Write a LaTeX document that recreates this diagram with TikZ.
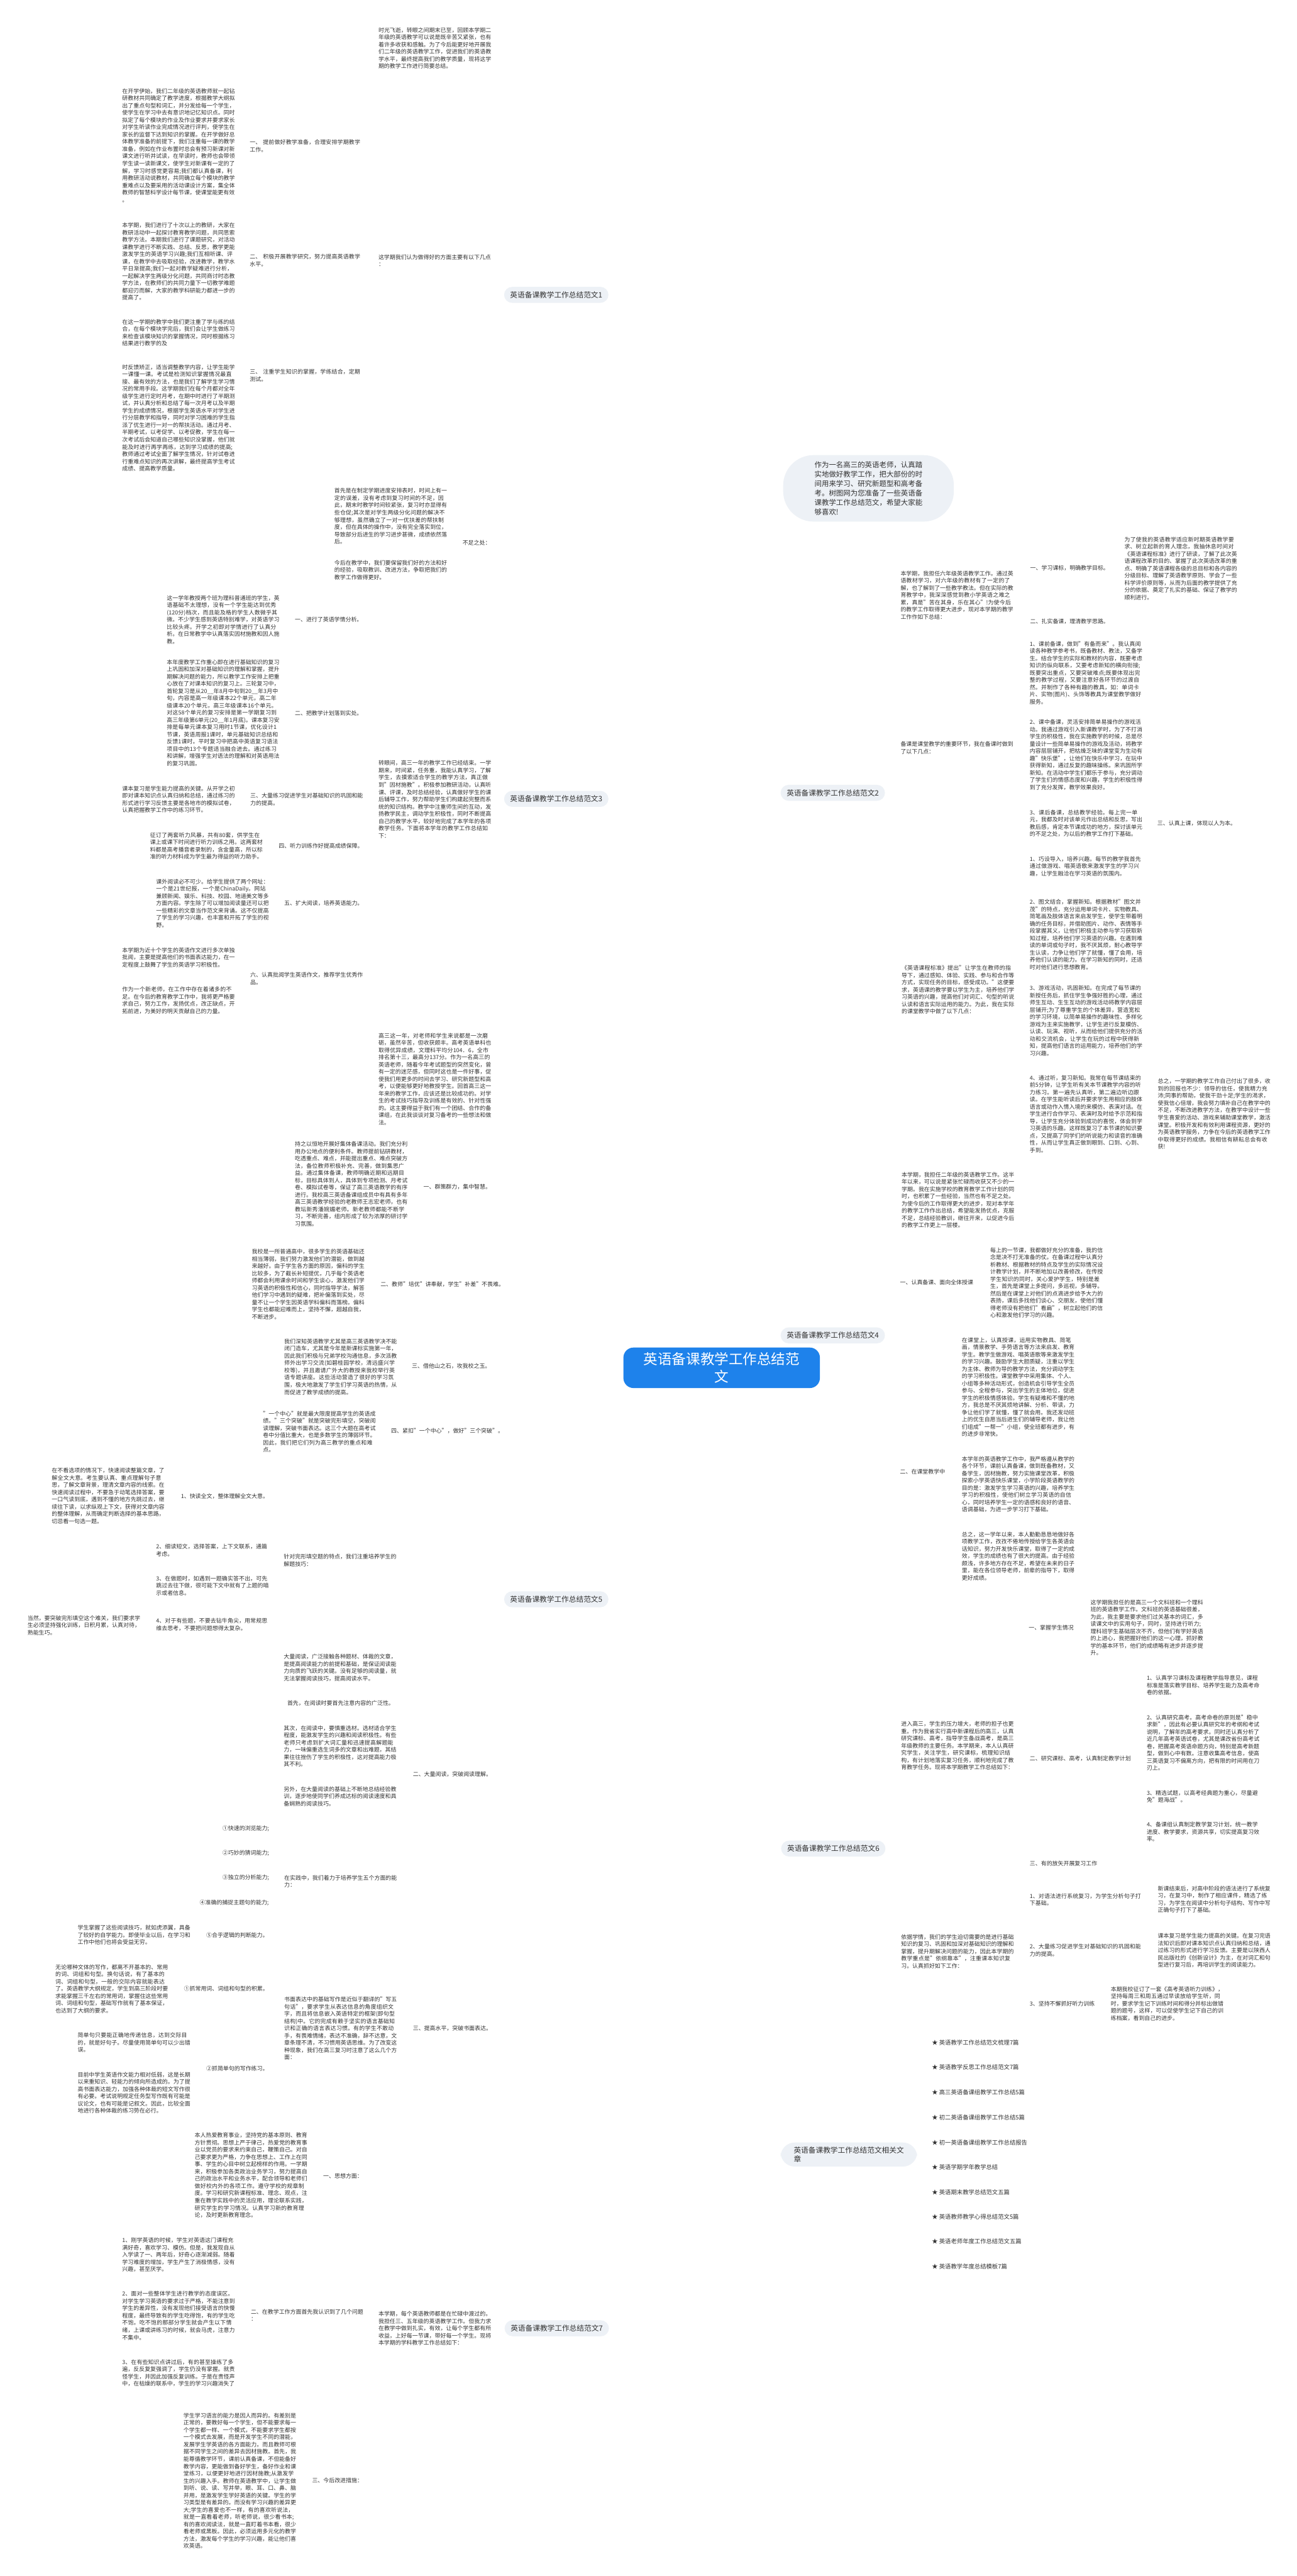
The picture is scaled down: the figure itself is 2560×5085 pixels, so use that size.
\documentclass[tikz,border=0pt]{standalone}
\usepackage{fontspec}
\setmainfont{Noto Sans CJK SC}
\XeTeXlinebreaklocale "zh"
\XeTeXlinebreakskip=0pt plus 0.5pt
\usetikzlibrary{calc}
\pgfdeclarelayer{bg}
\pgfsetlayers{bg,main}
\definecolor{lineblue}{RGB}{27,108,190}
\definecolor{rootblue}{RGB}{30,130,235}
\definecolor{brfill}{RGB}{237,241,246}
\definecolor{txt}{RGB}{50,50,50}
\newcommand\bodyf{\fontsize{5.55pt}{7.15pt}\selectfont}
\newcommand\brf{\fontsize{7.25pt}{9pt}\selectfont}
\newcommand\rootf{\fontsize{14pt}{17pt}\selectfont}
\newcommand\myR[2]{\draw[conn] (#1.east) -- ++(15,0) |- (#2.west);}
\newcommand\myL[2]{\draw[conn] (#1.west) -- ++(-15,0) |- (#2.east);}
\newcommand\mainR[1]{\draw[mainc] (cen.center) .. controls (rx) and (rx |- #1.west) .. (#1.west);}
\newcommand\mainL[1]{\draw[mainc] (cen.center) .. controls (lx) and (lx |- #1.east) .. (#1.east);}
\begin{document}
\begin{tikzpicture}[x=0.5pt,y=-0.5pt,
  blk/.style={anchor=west,inner sep=0pt,text width=111.5pt,align=left,font=\bodyf,text=txt},
  lab/.style={anchor=west,inner sep=0pt,font=\bodyf,text=txt},
  br/.style={anchor=west,fill=brfill,rounded corners=8pt,font=\brf,text=txt,inner xsep=6pt,inner ysep=4.5pt},
  root/.style={fill=rootblue,text=white,rounded corners=10pt,font=\rootf,align=center,inner xsep=20pt,inner ysep=5pt},
  conn/.style={draw=lineblue,line width=1.1pt,rounded corners=5pt},
  mainc/.style={draw=lineblue,line width=1.5pt}]
\useasboundingbox (0,0) rectangle (2560,5085);
\fill[white] (0,0) rectangle (2560,5085);

% ---------- central ----------
\node[root] (cen) at (1425,2700) {英语备课教学工作总结范\\文};
\coordinate (rx) at (1490,2700);
\coordinate (lx) at (1250,2700);

% ---------- branch 1 ----------
\node[br] (b1) at (995,582) {英语备课教学工作总结范文1};
\node[blk] (b1t1) at (747,95) {时光飞逝，转眼之间期末已至，回顾本学期二年级的英语教学可以说是既辛苦又紧张，也有着许多收获和感触。为了今后能更好地开展我们二年级的英语教学工作，促进我们的英语教学水平，最终提高我们的教学质量，现将这学期的教学工作进行简要总结。};
\node[blk] (b1t2) at (747,514) {这学期我们认为做得好的方面主要有以下几点\\：};
\node[blk] (b1t2a) at (493,288) {一、 提前做好教学准备，合理安排学期教学工作。};
\node[blk] (b1t2a1) at (241,287) {在开学伊始，我们二年级的英语教师就一起钻研教材共同确定了教学进度，根据教学大纲拟出了重点句型和词汇，并分发给每一个学生，使学生在学习中去有意识地记忆知识点。同时拟定了每个模块的作业及作业要求并要求家长对学生听读作业完成情况进行评判，使学生在家长的监督下达到知识的掌握。在开学做好总体教学准备的前提下，我们注重每一课的教学准备，例如在作业布置时总会有预习新课对新课文进行听并试读，在早读时，教师也会带领学生读一读新课文，使学生对新课有一定的了解，学习时感觉更容易;我们都认真备课，利用教研活动说教材，共同确立每个模块的教学重难点以及要采用的活动课设计方案，集全体教师的智慧科学设计每节课，使课堂能更有效\\。};
\node[blk] (b1t2b) at (493,514) {二、 积极开展教学研究，努力提高英语教学水平。};
\node[blk] (b1t2b1) at (241,516) {本学期，我们进行了十次以上的教研，大家在教研活动中一起探讨教育教学问题，共同思索教学方法。本期我们进行了课题研究，对活动课教学进行不断实践、总结、反思，教学更能激发学生的英语学习兴趣;我们互相听课、评课，在教学中去吸取经验，改进教学，教学水平日渐提高;我们一起对教学疑难进行分析，一起解决学生两级分化问题，共同商讨时态教学方法，在教师们的共同力量下一切教学难题都迎刃而解，大家的教学科研能力都进一步的提高了。};
\node[blk] (b1t2c) at (493,741) {三、 注重学生知识的掌握，学练结合，定期测试。};
\node[blk] (b1t2c1) at (241,657) {在这一学期的教学中我们更注重了学与练的结合，在每个模块学完后，我们会让学生做练习来检查该模块知识的掌握情况，同时根据练习结果进行教学的及};
\node[blk] (b1t2c2) at (241,825) {时反馈矫正，适当调整教学内容，让学生能学一课懂一课。考试是检测知识掌握情况最直接、最有效的方法，也是我们了解学生学习情况的常用手段。这学期我们在每个月都对全年级学生进行定时月考，在期中时进行了半期测试，并认真分析和总结了每一次月考以及半期学生的成绩情况，根据学生英语水平对学生进行分层教学和指导，同时对学习困难的学生指派了优生进行一对一的帮扶活动。通过月考、半期考试，以考促学、以考促教，学生在每一次考试后会知道自己哪些知识没掌握，他们就能及时进行再学再练，达到学习成绩的提高;教师通过考试全面了解学生情况，针对试卷进行重难点知识的再次讲解，最终提高学生考试成绩、提高教学质量。};
\node[lab] (b1t3) at (913,1071) {不足之处：};
\node[blk] (b1t3a) at (660,1019) {首先是在制定学期进度安排表时，时间上有一定的误差，没有考虑到复习时间的不足，因此，期末时教学时间较紧张，复习时亦显得有些仓促;其次是对学生两级分化问题的解决不够理想，虽然确立了一对一优扶差的帮扶制度，但在具体的操作中，没有完全落实到位，导致部分后进生的学习进步甚微，成绩依然落后。};
\node[blk] (b1t3b) at (660,1125) {今后在教学中，我们要保留我们好的方法和好的经验，吸取教训、改进方法，争取把我们的教学工作做得更好。};

% ---------- branch 3 ----------
\node[br] (b3) at (995,1577) {英语备课教学工作总结范文3};
\node[blk] (b3t) at (747,1578) {转眼间，高三一年的教学工作已经结束。一学期来，时间紧，任务重，我能认真学习，了解学生，去摸索适合学生的教学方法，真正做到"因材施教"。积极参加教研活动，认真听课、评课，及时总结经验，认真做好学生的课后辅导工作，努力帮助学生们构建起完整而系统的知识结构。教学中注重师生间的互动，发扬教学民主，调动学生积极性，同时不断提高自己的教学水平，较好地完成了本学年的各项教学任务。下面将本学年的教学工作总结如下：};
\node[lab] (b3a) at (582,1223) {一、进行了英语学情分析。};
\node[blk] (b3a1) at (329,1223) {这一学年教授两个班为理科普通班的学生，英语基础不太理想，没有一个学生能达到优秀(120分)档次，而且能及格的学生人数微乎其微。不少学生感到英语特别难学，对英语学习比较头疼。开学之初即对学情进行了认真分析。在日常教学中认真落实因材施教和因人施教。};
\node[lab] (b3b) at (582,1408) {二、把教学计划落到实处。};
\node[blk] (b3b1) at (329,1407) {本年度教学工作重心即在进行基础知识的复习上巩固和加深对基础知识的理解和掌握，提升期解决问题的能力，所以教学工作安排上把重心放在了对课本知识的复习上。三轮复习中，首轮复习是从20\_\_年8月中旬到20\_\_年3月中旬，内容是高一年级课本22个单元，高二年级课本20个单元，高三年级课本16个单元。对这58个单元的复习安排是第一学期复习到高三年级第6单元(20\_\_年1月底)。课本复习安排是每单元课本复习用时1节课，优化设计1节课，英语周报1课时，单元基础知识总结和反馈1课时。平时复习中把高中英语复习语法项目中的13个专题适当融合进去。通过练习和讲解，增强学生对语法的理解和对英语用法的复习巩固。};
\node[blk] (b3c) at (494,1578) {三、大量练习促进学生对基础知识的巩固和能力的提高。};
\node[blk] (b3c1) at (241,1578) {课本复习是学生能力提高的关键。从开学之初即对课本知识点认真归纳和总结，通过练习的形式进行学习反馈主要是各地市的模拟试卷，认真把握教学工作中的练习环节。};
\node[lab] (b3d) at (550,1670) {四、听力训练作好提高成绩保障。};
\node[blk] (b3d1) at (296,1670) {征订了两套听力风暴，共有80套，供学生在课上或课下时间进行听力训练之用。这两套材料都是高考播音者录制的，含金量高，所以标准的听力材料成为学生最为得益的听力助手。};
\node[lab] (b3e) at (561,1783) {五、扩大阅读，培养英语能力。};
\node[blk] (b3e1) at (308,1783) {课外阅读必不可少。给学生提供了两个网址：一个是21世纪报，一个是ChinaDaily。网站兼顾新闻、娱乐、科技、校园、地道美文等多方面内容。学生除了可以增加阅读量还可以把一些精彩的文章当作范文来背诵。这不仅提高了学生的学习兴趣，也丰富和开拓了学生的视野。};
\node[blk] (b3f) at (494,1932) {六、认真批阅学生英语作文，推荐学生优秀作品。};
\node[blk] (b3f1) at (241,1890) {本学期为近十个学生的英语作文进行多次单独批阅，主要是提高他们的书面表达能力，在一定程度上鼓舞了学生的英语学习积极性。};
\node[blk] (b3f2) at (241,1975) {作为一个新老师，在工作中存在着诸多的不足。在今后的教育教学工作中，我将更严格要求自己，努力工作，发扬优点，改正缺点，开拓前进，为美好的明天贡献自己的力量。};

% ---------- branch 5 ----------
\node[br] (b5) at (995,3157) {英语备课教学工作总结范文5};
\node[blk] (b5t) at (747,2130) {高三这一年，对老师和学生来说都是一次磨砺，虽然辛苦，但收获颇丰。高考英语单科也取得优异成绩，文理科平均分104．6，全市排名第十三，最高分137分。作为一名高三的英语老师，随着今年考试题型的突然变化，曾有一定的迷茫感，但同时这也是一件好事，促使我们用更多的时间去学习、研究新题型和高考，以便能够更好地教授学生。回首高三这一年来的教学工作，应该还是比较成功的。对学生的考试技巧指导及训练是有效的、针对性强的。这主要得益于我们有一个团结、合作的备课组，在此我谈谈对复习备考的一些想法和做法。};
\node[lab] (b5a) at (836,2343) {一、群策群力，集中智慧。};
\node[blk] (b5a1) at (582,2337) {持之以恒地开展好集体备课活动。我们充分利用办公地点的便利条件。教师提前钻研教材，吃透重点、难点，并能提出重点、难点突破方法，备位教师积极补充、完善，做到集思广益。通过集体备课，教师明确近期和远期目标，目标具体到人，具体到专项检测、月考试卷、模拟试卷等，保证了高三英语教学的有序进行。我校高三英语备课组成员中有具有多年高三英语教学经验的老教师王志宏老师，也有教坛新秀潘婉媚老师。新老教师都能不断学习，不断完善，组内形成了较为浓厚的研讨学习氛围。};
\node[lab] (b5b) at (751,2535) {二、教师"培优"讲奉献，学生"补差"不畏难。};
\node[blk] (b5b1) at (497,2535) {我校是一所普通高中，很多学生的英语基础还相当薄弱，我们努力激发他们的潜能，做到越来越好。由于学生各方面的原因，偏科的学生比较多，为了截长补短提优，几乎每个英语老师都会利用课余时间和学生谈心，激发他们学习英语的积极性和信心，同时指导学法，解答他们学习中遇到的疑难，把补偏落到实处，尽量不让一个学生因英语学科偏科而落榜。偏科学生也都能迎难而上，坚持不懈，超越自我，不断进步。};
\node[lab] (b5c) at (813,2697) {三、借他山之石，攻我校之玉。};
\node[blk] (b5c1) at (561,2698) {我们深知英语教学尤其是高三英语教学决不能闭门造车，尤其是今年是新课标实施第一年，因此我们积极与兄弟学校沟通信息，多次派教师外出学习交流(如碧桂园学校，清远盛兴学校等)，并且邀请广外大的教授来我校举行英语专题讲座。这些活动营造了很好的学习氛围，极大地激发了学生们学习英语的热情，从而促进了教学成绩的提高。};
\node[lab] (b5d) at (772,2825) {四、紧扣"一个中心"，做好"三个突破"。};
\node[blk] (b5d1) at (519,2826) {"一个中心"就是最大限度提高学生的英语成绩。"三个突破"就是突破完形填空，突破阅读理解，突破书面表达。这三个大题在高考试卷中分值比重大，也是多数学生的薄弱环节。因此，我们把它们列为高三教学的重点和难点。};
\node[blk] (b5e) at (560,3080) {针对完形填空题的特点，我们注重培养学生的解题技巧：};
\node[lab] (b5e1) at (357,2953) {1、快读全文，整体理解全文大意。};
\node[blk] (b5e1a) at (102,2953) {在不看选项的情况下，快速阅读整篇文章，了解全文大意。考生要认真、重点理解句子意思，了解文章背景，理清文章内容的线索。在快速阅读过程中，不要急于动笔选择答案，要一口气读到底，遇到不懂的地方先跳过去，继续往下读，以求纵观上下文，获得对文章内容的整体理解，从而确定判断选择的基本思路，切忌看一句选一题。};
\node[blk] (b5e2) at (308,3060) {2、细读短文，选择答案，上下文联系，通篇考虑。};
\node[blk] (b5e3) at (308,3130) {3、在做题时，如遇到一题确实答不出，可先跳过去往下做，很可能下文中就有了上题的暗示或者信息。};
\node[blk] (b5e4) at (308,3207) {4、对于有些题，不要去钻牛角尖，用常规思维去思考，不要把问题想得太复杂。};
\node[blk] (b5e4a) at (54,3208) {当然，要突破完形填空这个难关，我们要求学生必须坚持强化训练，日积月累，认真对待，熟能生巧。};
\node[lab] (b5f) at (815,3502) {二、大量阅读，突破阅读理解。};
\node[blk] (b5f1) at (560,3292) {大量阅读，广泛接触各种题材、体裁的文章，是提高阅读能力的前提和基础，是保证阅读能力向质的飞跃的关键。没有足够的阅读量，就无法掌握阅读技巧，提高阅读水平。};
\node[lab] (b5f2) at (567,3362) {首先，在阅读时要首先注意内容的广泛性。};
\node[blk] (b5f3) at (560,3447) {其次，在阅读中，要慎重选材。选材适合学生程度，能激发学生的兴趣和阅读积极性。有些老师只考虑到扩大词汇量和迅速提高解题能力，一味偏重选生词多的文章和出难题，其结果往往挫伤了学生的积极性，这对提高能力极其不利。};
\node[blk] (b5f4) at (560,3546) {另外，在大量阅读的基础上不断地总结经验教训，逐步地使同学们养成达标的阅读速度和具备娴熟的阅读技巧。};
\node[blk] (b5f5) at (561,3714) {在实践中，我们着力于培养学生五个方面的能力：};
\node[lab] (b5f5a) at (439,3610) {①快速的浏览能力;};
\node[lab] (b5f5b) at (439,3658) {②巧妙的猜词能力;};
\node[lab] (b5f5c) at (439,3707) {③独立的分析能力;};
\node[lab] (b5f5d) at (394,3756) {④准确的捕捉主题句的能力;};
\node[lab] (b5f5e) at (407,3820) {⑤合乎逻辑的判断能力。};
\node[blk] (b5f5e1) at (153,3820) {学生掌握了这些阅读技巧，就如虎添翼，具备了较好的自学能力。即使毕业以后，在学习和工作中他们也将会受益无穷。};
\node[lab] (b5g) at (815,4004) {三、提高水平，突破书面表达。};
\node[blk] (b5g1) at (561,4004) {书面表达中的基础写作是近似于翻译的"写五句话"，要求学生从表达信息的角度组织文字，而且将信息嵌入英语特定的框架(即句型结构)中。它的完成有赖于坚实的语言基础知识和正确的语言表达习惯。有的学生不敢动手，有畏难情绪，表达不准确，辞不达意，文章条理不清，不习惯用英语思维。为了改变这种现象，我们在高三复习时注意了这么几个方面：};
\node[lab] (b5g1a) at (363,3926) {①抓常用词、词组和句型的积累。};
\node[blk] (b5g1a1) at (109,3926) {无论哪种文体的写作，都离不开基本的、常用的词、词组和句型。换句话说，有了基本的词、词组和句型，一般的交际内容就能表达了。英语教学大纲规定，学生到高三阶段时要求能掌握三千左右的常用词，掌握住这些常用词、词组和句型，基础写作就有了基本保证，也达到了大纲的要求。};
\node[lab] (b5g1b) at (407,4083) {②抓简单句的写作练习。};
\node[blk] (b5g1b1) at (153,4032) {简单句只要能正确地传递信息，达到交际目的，就是好句子。尽量使用简单句可以少出错误。};
\node[blk] (b5g1b2) at (153,4131) {目前中学生英语作文能力相对低弱，这是长期以来重知识、轻能力的倾向所造成的。为了提高书面表达能力，加强各种体裁的短文写作很有必要。考试说明规定任务型写作既有可能是议论文，也有可能是记叙文。因此，比较全面地进行各种体裁的练习势在必行。};

% ---------- branch 7 ----------
\node[br] (b7) at (996,4596) {英语备课教学工作总结范文7};
\node[blk] (b7t) at (747,4596) {本学期，每个英语教师都是在忙碌中渡过的。我担任三、五年级的英语教学工作。但我力求在教学中做到扎实，有效，让每个学生都有所收益，上好每一节课，带好每一个学生。现将本学期的学科教学工作总结如下：};
\node[lab] (b7a) at (638,4295) {一、思想方面：};
\node[blk] (b7a1) at (384,4294) {本人热爱教育事业，坚持党的基本原则、教育方针贯彻。思想上严于律己，热爱党的教育事业以党员的要求来约束自己，鞭策自己。对自己要求更为严格，力争在思想上、工作上在同事、学生的心目中树立起榜样的作用。一学期来，积极参加各类政治业务学习，努力提高自己的政治水平和业务水平，配合领导和老师们做好校内外的各项工作。遵守学校的规章制度。学习和研究新课程标准、理念、观点，注重在教学实践中的灵活应用，理论联系实践，研究学生的学习情况。认真学习新的教育理论，及时更新教育理念。};
\node[blk] (b7b) at (495,4570) {二、在教学工作方面首先我认识到了几个问题\\：};
\node[blk] (b7b1) at (241,4451) {1、刚学英语的时候，学生对英语这门课程充满好奇，喜欢学习、模仿。但是，我发现自从入学读了一、两年后，好奇心逐渐减弱。随着学习难度的增加，学生产生了消极情感，没有兴趣，甚至厌学。};
\node[blk] (b7b2) at (241,4571) {2、面对一些整体学生进行教学的态度误区。对学生学习英语的要求过于严格，不能注意到学生的差异性，没有发现他们接受语言的快慢程度，最终导致有的学生吃得饱，有的学生吃不饱。吃不饱的那部分学生就会产生以下情绪，上课或讲练习的时候，就会马虎，注意力不集中。};
\node[blk] (b7b3) at (241,4684) {3、在有些知识点讲过后，有的甚至操练了多遍，反反复复强调了，学生仍没有掌握。就责怪学生，并因此加强反复训练。于是在责怪声中，在枯燥的联系中，学生的学习兴趣消失了};
\node[lab] (b7c) at (616,4896) {三、今后改进措施：};
\node[blk] (b7c1) at (362,4897) {学生学习语言的能力是因人而异的。有差别是正常的，要教好每一个学生，但不能要求每一个学生都一样、一个模式，不能要求学生都按一个模式去发展，而是开发学生不同的潜能，发展学生学英语的各方面能力。而且教师可根据不同学生之间的差异去因材施教。首先，我能尊循教学环节，课前认真备课，不但能备好教学内容，更能做到备好学生，备好作业和课堂练习，以便更好地进行因材施教;从激发学生的兴趣入手。教师在英语教学中，让学生做到听、说、读、写并举，眼、耳、口、鼻、脑并用，是激发学生学好英语的关键。学生的学习类型是有差异的。而没有学习兴趣的差异更大;学生的喜爱也不一样，有的喜欢听说法，就是一直看着老师，听老师说，很少看书本;有的喜欢阅读法，就是一直盯着书本看，很少看老师或黑板。因此，必须运用多元化的教学方法，激发每个学生的学习兴趣，能让他们喜欢英语。};

% ---------- intro ----------
\node[fill=brfill,rounded corners=30pt,align=left,font=\fontsize{7.1pt}{9.4pt}\selectfont,text=txt,inner xsep=31pt,inner ysep=6pt] (intro) at (1715,964) {作为一名高三的英语老师，认真踏\\实地做好教学工作，把大部份的时\\间用来学习、研究新题型和高考备\\考。树图网为您准备了一些英语备\\课教学工作总结范文，希望大家能\\够喜欢!};

% ---------- branch 2 ----------
\node[br] (b2) at (1541,1565) {英语备课教学工作总结范文2};
\node[blk] (b2a) at (1778,1175) {本学期，我担任六年级英语教学工作。通过英语教材学习，对六年级的教材有了一定的了解，也了解到了一些教学教法。但在实际的教育教学中，我深深感觉到教小学英语之难之累，真是"苦在其身，乐在其心"!为使今后的教学工作取得更大进步，现对本学期的教学工作作如下总结：};
\node[lab] (b2a1) at (2034,1121) {一、学习课标，明确教学目标。};
\node[blk] (b2a1a) at (2220,1122) {为了使我的英语教学适应新时期英语教学要求、树立起新的育人理念，我抽休息时间对《英语课程标准》进行了研读，了解了此次英语课程改革的目的、掌握了此次英语改革的重点、明确了英语课程各级的总目标和各内容的分级目标、理解了英语教学原则、学会了一些科学评价原则等，从而为后面的教学提供了充分的依据、奠定了扎实的基础、保证了教学的顺利进行。};
\node[lab] (b2a2) at (2034,1227) {二、扎实备课，理清教学思路。};
\node[blk] (b2b) at (1778,1476) {备课是课堂教学的重要环节，我在备课时做到了以下几点：};
\node[blk] (b2b1) at (2033,1328) {1、课前备课，做到"有备而来"。我认真阅读各种教学参考书，既备教材、教法，又备学生。结合学生的实际和教材的内容，既要考虑知识的纵向联系，又要考虑新知的横向衔接;既要突出重点，又要突破难点;既要体现出完整的教学过程，又要注意好各环节的过渡自然。并制作了各种有趣的教具，如：单词卡片、实物(图片)、头饰等教具为课堂教学做好服务。};
\node[blk] (b2b2) at (2033,1490) {2、课中备课，灵活安排简单易操作的游戏活动。我通过游戏引入新课教学时，为了不打消学生的积极性，我在实施教学的时候，总是尽量设计一些简单易操作的游戏及活动，将教学内容层层铺开，把枯燥乏味的课堂变为生动有趣"快乐堡"，让他们在快乐中学习，在玩中获得新知，通过反复的趣味操练。来巩固所学新知。在活动中学生们都乐于参与，充分调动了学生们的情感态度和兴趣，学生的积极性得到了充分发挥，教学效果良好。};
\node[blk] (b2b3) at (2033,1625) {3、课后备课，总结教学经验。每上完一单元，我都及时对该单元作出总结和反思，写出教后感，肯定本节课成功的地方，探讨该单元的不足之处，为以后的教学工作打下基础。};
\node[lab] (b2b3a) at (2285,1625) {三、认真上课，体现以人为本。};
\node[blk] (b2c) at (1780,1954) {《英语课程标准》提出"让学生在教师的指导下，通过感知、体验、实践、参与和合作等方式，实现任务的目标，感受成功。"这便要求，英语课的教学要以学生为主，培养他们学习英语的兴趣，提高他们对词汇、句型的听说认读和语言实际运用的能力。为此，我在实际的课堂教学中做了以下几点：};
\node[blk] (b2c1) at (2033,1710) {1、巧设导入，培养兴趣。每节的教学我首先通过做游戏、唱英语歌来激发学生的学习兴趣，让学生融洽在学习英语的氛围内。};
\node[blk] (b2c2) at (2033,1845) {2、图文结合，掌握新知。根据教材"图文并茂"的特点，充分运用单词卡片、实物教具、简笔画及肢体语言来启发学生，使学生带着明确的任务目标，并借助图片、动作、表情等手段掌握其义，让他们积极主动参与学习获取新知过程，培养他们学习英语的兴趣。在遇到难读的单词或句子时，我不厌其烦，耐心教导学生认读，力争让他们学了就懂，懂了会用，培养他们认读的能力。在学习新知的同时，还适时对他们进行思想教育。};
\node[blk] (b2c3) at (2033,2015) {3、游戏活动，巩固新知。在完成了每节课的新授任务后，抓住学生争强好胜的心理，通过师生互动、生生互动的游戏活动将教学内容层层铺开;为了尊重学生的个体差异，营造宽松的学习环境，以简单易操作的趣味性、多样化游戏为主来实施教学，让学生进行反复模仿、认读、玩演、视听，从而给他们提供充分的活动和交流机会，让学生在玩的过程中获得新知，提高他们语言的运用能力，培养他们的学习兴趣。};
\node[blk] (b2c4) at (2033,2199) {4、通过听，复习新知。我常在每节课结束的前5分钟，让学生听有关本节课教学内容的听力练习。第一遍先认真听，第二遍边听边跟读。在学生能听读后并要求学生用相应的肢体语言或动作入情入境的来模仿、表演对话。在学生进行合作学习、表演时及时给予示范和指导，让学生充分体验到成功的喜悦，体会到学习英语的乐趣。这样既复习了本节课的知识要点，又提高了同学们的听说能力和读音的准确性，从而让学生真正做到眼到、口到、心到、手到。};
\node[blk] (b2c4a) at (2286,2199) {总之，一学期的教学工作自己付出了很多，收到的回报也不少：领导的信任，使我精力充沛;同事的帮助，使我干劲十足;学生的渴求，使我信心倍增，我会努力填补自己在教学中的不足，不断改进教学方法，在教学中设计一些学生喜爱的活动、游戏来辅助课堂教学，激活课堂。积极开发和有效利用课程资源，更好的为英语教学服务，力争在今后的英语教学工作中取得更好的成绩。我相信有耕耘总会有收获!};

% ---------- branch 4 ----------
\node[br] (b4) at (1541,2636) {英语备课教学工作总结范文4};
\node[blk] (b4t) at (1780,2369) {本学期，我担任二年级的英语教学工作。这半年以来，可以说是紧张忙碌而收获又不少的一学期。我在实施学校的教育教学工作计划的同时，也积累了一些经验，当然也有不足之处。为使今后的工作取得更大的进步，现对本学年的教学工作作出总结，希望能发扬优点，克服不足，总结经验教训，继往开来，以促进今后的教学工作更上一层楼。};
\node[lab] (b4a) at (1777,2531) {一、认真备课、面向全体授课};
\node[blk] (b4a1) at (1955,2532) {每上的一节课，我都做好充分的准备，我的信念是决不打无准备的仗。在备课过程中认真分析教材、根据教材的特点及学生的实际情况设计教学计划，并不断地加以改善修改，在传授学生知识的同时，关心爱护学生，特别是差生，首先是课堂上多提问，多巡视，多辅导。然后是在课堂上对他们的点滴进步给予大力的表扬，课后多找他们谈心、交朋友，使他们懂得老师没有把他们"看扁"，树立起他们的信心和激发他们学习的兴趣。};
\node[lab] (b4b) at (1777,2905) {二、在课堂教学中};
\node[blk] (b4b1) at (1899,2738) {在课堂上，认真授课，运用实物教具、简笔画，情景教学、手势语言等方法来启发、教育学生。教学生做游戏、唱英语歌等来激发学生的学习兴趣。鼓励学生大胆质疑，注重以学生为主体、教师为导的教学方法，充分调动学生的学习积极性。课堂教学中采用集体、个人、小组等多种活动形式，创造机会引导学生全员参与、全程参与，突出学生的主体地位，促进学生的积极情感体验。学生有疑难和不懂的地方，我总是不厌其烦地讲解、分析、带读，力争让他们学了就懂，懂了就会用。我还发动班上的优生自愿当后进生们的辅导老师，我让他们组成"一帮一"小组，使全班都有进步，有的进步非常快。};
\node[blk] (b4b2) at (1899,2930) {本学年的英语教学工作中，我严格遵从教学的各个环节，课前认真备课，做到既备教材，又备学生，因材施教，努力实施课堂改革，积极探索小学英语快乐课堂，小学阶段英语教学的目的是：激发学生学习英语的兴趣，培养学生学习的积极性，使他们树立学习英语的自信心，同时培养学生一定的语感和良好的语音、语调基础，为进一步学习打下基础。};
\node[blk] (b4b3) at (1899,3072) {总之，这一学年以来，本人勤勤恳恳地做好各项教学工作，孜孜不倦地传授给学生各英语会话知识，努力开发快乐课堂，取得了一定的成效，学生的成绩也有了很大的提高。由于经验颇浅，许多地方存在不足，希望在未来的日子里，能在各位领导老师，前辈的指导下，取得更好成绩。};

% ---------- branch 6 ----------
\node[br] (b6) at (1542,3649) {英语备课教学工作总结范文6};
\node[blk] (b6t) at (1779,3446) {进入高三，学生的压力增大，老师的担子也更重。作为我省实行高中新课程后的高三，认真研究课标、高考，指导学生备战高考，是高三年级教师的主要任务。本学期来，本人认真研究学生，关注学生，研究课标，梳理知识结构，有计划地落实复习任务，顺利地完成了教育教学任务。现将本学期教学工作总结如下：};
\node[lab] (b6a) at (2031,3213) {一、掌握学生情况};
\node[blk] (b6a1) at (2153,3213) {这学期我担任的是高三一个文科班和一个理科班的英语教学工作。文科班的英语基础很差，为此，我主要是要求他们过关基本的词汇，多读课文中的实用句子，同时，坚持进行听力;理科班学生基础层次不齐，但他们有学好英语的上进心，我把握好他们的这一心理，抓好教学的基本环节，他们的成绩略有进步并逐步提升。};
\node[lab] (b6b) at (2033,3471) {二、研究课标、高考，认真制定教学计划};
\node[blk] (b6b1) at (2264,3327) {1、认真学习课标及课程教学指导意见，课程标准是落实教学目标、培养学生能力及高考命卷的依据。};
\node[blk] (b6b2) at (2264,3440) {2、认真研究高考。高考命卷的原则是"稳中求新"，因此有必要认真研究年的考纲和考试说明，了解年的高考要求。同时还认真分析了近几年高考英语试卷，尤其是课改省份高考试卷，把握高考英语命题方向，特别是高考新题型，做到心中有数。注意收集高考信息，使高三英语复习不偏离方向，把有限的时间用在刀刃上。};
\node[blk] (b6b3) at (2264,3546) {3、精选试题，以高考经典题为重心，尽量避免"题海战"。};
\node[blk] (b6b4) at (2264,3616) {4、备课组认真制定教学复习计划，统一教学进度、教学要求，资源共享，切实提高复习效率。};
\node[lab] (b6c) at (2033,3679) {三、有的放矢开展复习工作};
\node[blk] (b6u) at (1779,3852) {依据学情，我们的学生迫切需要的是进行基础知识的复习、巩固和加深对基础知识的理解和掌握，提升期解决问题的能力，因此本学期的教学重点是"依纲靠本"，注重课本知识复习。认真抓好如下工作：};
\node[blk] (b6u1) at (2033,3750) {1、对语法进行系统复习，为学生分析句子打下基础。};
\node[blk] (b6u1a) at (2286,3749) {新课结束后，对高中阶段的语法进行了系统复习，在复习中，制作了相应课件，精选了练习，为学生在阅读中分析句子结构、写作中写正确句子打下了基础。};
\node[blk] (b6u2) at (2033,3850) {2、大量练习促进学生对基础知识的巩固和能力的提高。};
\node[blk] (b6u2a) at (2286,3850) {课本复习是学生能力提高的关键。在复习完语法知识后即对课本知识点认真归纳和总结，通过练习的形式进行学习反馈。主要是以陕西人民出版社的《创新设计》为主，在对词汇和句型进行复习后，再培训学生的阅读能力。};
\node[lab] (b6u3) at (2033,3955) {3、坚持不懈抓好听力训练};
\node[blk] (b6u3a) at (2193,3955) {本期我校征订了一套《高考英语听力训练》，坚持每周三和周五通过早读放给学生听，同时，要求学生记下训练时间和得分并标出做错题的题号，这样，可以促使学生记下自己的训练档案，看到自己的进步。};

% ---------- related ----------
\node[br,rounded corners=14pt,align=left,inner xsep=13pt,inner ysep=4pt] (rel) at (1541,4253) {英语备课教学工作总结范文相关文\\章};
\foreach \i/\t [count=\k] in {4032/英语教学工作总结范文梳理7篇,4081/英语教学反思工作总结范文7篇,4130/高三英语备课组教学工作总结5篇,4180/初二英语备课组教学工作总结5篇,4229/初一英语备课组教学工作总结报告,4278/英语学期学年教学总结,4327/英语期末教学总结范文五篇,4376/英语教师教学心得总结范文5篇,4425/英语老师年度工作总结范文五篇,4474/英语教学年度总结模板7篇}
  {\node[lab,font=\fontsize{5.8pt}{7pt}\selectfont] (rel\k) at (1840,\i) {★ \t};}

% ---------- connectors ----------
\begin{pgfonlayer}{bg}
\mainL{b1}\mainL{b3}\mainL{b5}\mainL{b7}
\mainR{intro}\mainR{b2}\mainR{b4}\mainR{b6}\mainR{rel}
\myL{b1}{b1t1}\myL{b1}{b1t2}\myL{b1}{b1t3}
\myL{b1t2}{b1t2a}\myL{b1t2}{b1t2b}\myL{b1t2}{b1t2c}
\myL{b1t2a}{b1t2a1}\myL{b1t2b}{b1t2b1}\myL{b1t2c}{b1t2c1}\myL{b1t2c}{b1t2c2}
\myL{b1t3}{b1t3a}\myL{b1t3}{b1t3b}
\myL{b3}{b3t}
\myL{b3t}{b3a}\myL{b3t}{b3b}\myL{b3t}{b3c}\myL{b3t}{b3d}\myL{b3t}{b3e}\myL{b3t}{b3f}
\myL{b3a}{b3a1}\myL{b3b}{b3b1}\myL{b3c}{b3c1}\myL{b3d}{b3d1}\myL{b3e}{b3e1}\myL{b3f}{b3f1}\myL{b3f}{b3f2}
\myL{b5}{b5t}\myL{b5}{b5a}\myL{b5}{b5b}\myL{b5}{b5c}\myL{b5}{b5d}\myL{b5}{b5e}\myL{b5}{b5f}\myL{b5}{b5g}
\myL{b5a}{b5a1}\myL{b5b}{b5b1}\myL{b5c}{b5c1}\myL{b5d}{b5d1}
\myL{b5e}{b5e1}\myL{b5e}{b5e2}\myL{b5e}{b5e3}\myL{b5e}{b5e4}\myL{b5e1}{b5e1a}\myL{b5e4}{b5e4a}
\myL{b5f}{b5f1}\myL{b5f}{b5f2}\myL{b5f}{b5f3}\myL{b5f}{b5f4}\myL{b5f}{b5f5}
\myL{b5f5}{b5f5a}\myL{b5f5}{b5f5b}\myL{b5f5}{b5f5c}\myL{b5f5}{b5f5d}\myL{b5f5}{b5f5e}\myL{b5f5e}{b5f5e1}
\myL{b5g}{b5g1}\myL{b5g1}{b5g1a}\myL{b5g1}{b5g1b}\myL{b5g1a}{b5g1a1}\myL{b5g1b}{b5g1b1}\myL{b5g1b}{b5g1b2}
\myL{b7}{b7t}\myL{b7t}{b7a}\myL{b7t}{b7b}\myL{b7t}{b7c}
\myL{b7a}{b7a1}\myL{b7b}{b7b1}\myL{b7b}{b7b2}\myL{b7b}{b7b3}\myL{b7c}{b7c1}
\myR{b2}{b2a}\myR{b2}{b2b}\myR{b2}{b2c}
\myR{b2a}{b2a1}\myR{b2a}{b2a2}\myR{b2a1}{b2a1a}
\myR{b2b}{b2b1}\myR{b2b}{b2b2}\myR{b2b}{b2b3}\myR{b2b3}{b2b3a}
\myR{b2c}{b2c1}\myR{b2c}{b2c2}\myR{b2c}{b2c3}\myR{b2c}{b2c4}\myR{b2c4}{b2c4a}
\myR{b4}{b4t}\myR{b4}{b4a}\myR{b4}{b4b}\myR{b4a}{b4a1}
\myR{b4b}{b4b1}\myR{b4b}{b4b2}\myR{b4b}{b4b3}
\myR{b6}{b6t}\myR{b6}{b6u}
\myR{b6t}{b6a}\myR{b6t}{b6b}\myR{b6t}{b6c}\myR{b6a}{b6a1}
\myR{b6b}{b6b1}\myR{b6b}{b6b2}\myR{b6b}{b6b3}\myR{b6b}{b6b4}
\myR{b6u}{b6u1}\myR{b6u}{b6u2}\myR{b6u}{b6u3}
\myR{b6u1}{b6u1a}\myR{b6u2}{b6u2a}\myR{b6u3}{b6u3a}
\foreach \k in {1,...,10} {\draw[conn] (rel.east) -- ++(12,0) |- (rel\k.west);}
\end{pgfonlayer}
\end{tikzpicture}
\end{document}
